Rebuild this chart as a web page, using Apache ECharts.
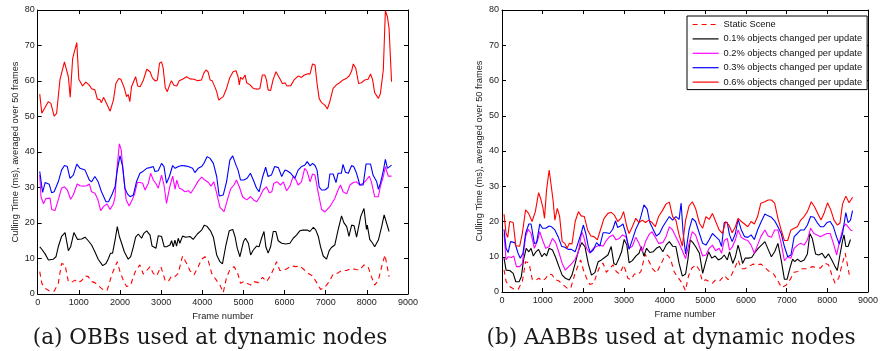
<!DOCTYPE html>
<html><head><meta charset="utf-8">
<script src="https://cdn.jsdelivr.net/npm/echarts@6/dist/echarts.min.js"></script>
<style>html,body{margin:0;padding:0;background:#fff}#c{width:881px;height:351px}</style>
</head><body><div id="c"></div>
<script>
// ---------- data ----------
const seriesNames = ['Static Scene','0.1% objects changed per update','0.2% objects changed per update','0.3% objects changed per update','0.6% objects changed per update'];
const seriesColors = ['#ff0000','#000000','#ff00ff','#0000ff','#ff0000'];
const xTickValues = [0,1000,2000,3000,4000,5000,6000,7000,8000,9000];
const yTickValues = [0,10,20,30,40,50,60,70,80];
const captions = ['(a) OBBs used at dynamic nodes','(b) AABBs used at dynamic nodes'];
const xTitle = 'Frame number';
const yTitle = 'Culling Time (ms), averaged over 50 frames';

// Static scene (same in both panels)
const staticScene = [[50,6.3],[100,3.0],[180,1.6],[280,0.9],[400,0.8],[500,3.0],[580,8.6],[665,8.2],[745,3.5],[825,3.3],[905,3.9],[990,3.2],[1070,3.8],[1150,5.1],[1230,4.9],[1310,3.5],[1390,3.2],[1500,2.1],[1600,1.1],[1690,1.1],[1800,5.4],[1880,7.7],[1935,9.1],[2000,6.3],[2080,3.9],[2160,2.1],[2260,2.5],[2325,4.9],[2390,6.8],[2485,8.2],[2565,5.6],[2650,6.6],[2730,7.7],[2810,5.8],[2890,5.1],[2995,7.7],[3095,3.9],[3175,3.5],[3255,5.1],[3335,4.9],[3415,5.8],[3520,10.7],[3620,8.6],[3700,6.6],[3800,5.4],[3900,7.7],[3985,9.8],[4065,10.5],[4145,9.4],[4230,5.8],[4330,4.1],[4430,2.5],[4510,0.4],[4590,4.7],[4670,6.8],[4770,7.7],[4850,6.3],[4930,3.0],[5010,3.5],[5090,3.0],[5175,2.5],[5255,3.5],[5360,3.2],[5465,4.7],[5560,3.5],[5645,4.9],[5725,6.8],[5805,9.1],[5885,6.6],[5970,6.6],[6065,7.2],[6170,7.9],[6275,7.7],[6370,7.9],[6470,6.9],[6575,5.8],[6680,5.1],[6780,3.2],[6875,1.3],[6980,1.9],[7085,3.5],[7180,5.6],[7280,5.8],[7385,6.6],[7505,6.6],[7630,7.2],[7730,6.9],[7830,6.8],[7930,8.2],[8030,7.7],[8110,4.9],[8190,2.5],[8280,3.9],[8360,7.7],[8440,11.0],[8480,10.7],[8540,4.9]];

// (a) OBBs
const obbP1 = [[50,13.3],[100,12.6],[180,11.3],[260,9.6],[380,9.8],[445,10.5],[500,13.3],[580,16.2],[665,17.3],[745,12.2],[800,13.3],[880,17.3],[965,15.4],[1070,15.5],[1150,16.0],[1230,15.0],[1310,13.8],[1390,11.9],[1470,9.8],[1510,9.8],[1580,8.0],[1660,8.6],[1720,10.0],[1770,11.5],[1820,11.5],[1880,15.2],[1935,19.0],[1985,16.2],[2040,14.3],[2105,11.9],[2200,9.8],[2260,10.5],[2325,13.3],[2380,16.0],[2445,16.9],[2525,15.7],[2580,17.1],[2650,17.8],[2730,16.6],[2780,13.5],[2825,13.3],[2875,12.9],[2930,16.4],[3010,16.2],[3075,13.3],[3130,13.3],[3215,13.8],[3255,15.0],[3295,13.3],[3335,15.2],[3375,13.5],[3415,15.7],[3455,14.3],[3520,16.3],[3600,16.0],[3700,16.2],[3780,15.4],[3880,16.9],[3985,18.0],[4050,19.4],[4120,19.0],[4200,17.8],[4270,16.0],[4350,11.0],[4430,9.1],[4490,8.5],[4575,13.8],[4655,17.8],[4740,18.2],[4795,16.2],[4850,12.9],[4915,10.5],[5000,14.7],[5050,15.7],[5120,14.3],[5175,11.0],[5240,12.4],[5320,13.5],[5380,13.3],[5440,15.7],[5500,17.6],[5545,13.3],[5600,11.5],[5660,13.3],[5725,17.6],[5790,17.6],[5845,15.0],[5930,14.3],[6030,14.1],[6130,14.3],[6210,15.7],[6290,16.6],[6370,17.8],[6450,18.0],[6550,18.0],[6615,17.6],[6700,18.8],[6760,18.0],[6820,16.2],[6875,13.3],[6940,10.7],[7020,9.8],[7085,12.2],[7140,13.1],[7220,13.8],[7300,18.0],[7385,22.0],[7440,20.1],[7510,19.0],[7565,16.2],[7630,19.4],[7690,19.2],[7750,16.0],[7790,15.7],[7850,21.8],[7930,24.1],[7990,18.2],[8010,19.4],[8070,15.4],[8140,14.3],[8190,13.3],[8280,15.2],[8360,19.0],[8420,22.3],[8460,21.8],[8540,17.6]];
const obbP2 = [[50,33.5],[80,27.4],[140,25.4],[200,26.9],[300,27.0],[340,23.8],[420,23.5],[500,26.5],[580,29.8],[650,30.2],[720,29.3],[800,26.7],[865,27.9],[960,31.0],[1030,30.5],[1110,30.4],[1190,30.5],[1255,31.0],[1310,28.8],[1390,28.4],[1460,26.7],[1530,23.5],[1600,24.6],[1680,25.4],[1760,23.8],[1840,25.4],[1880,27.4],[1920,34.5],[1985,42.3],[2030,40.6],[2080,34.0],[2150,26.5],[2225,24.8],[2310,26.9],[2360,28.4],[2420,31.4],[2490,31.4],[2550,31.2],[2610,29.3],[2690,31.2],[2745,34.0],[2810,32.1],[2870,31.2],[2930,29.8],[3010,33.5],[3070,30.7],[3130,25.5],[3210,30.2],[3280,33.2],[3340,29.5],[3380,32.1],[3440,29.8],[3500,29.5],[3580,28.8],[3660,29.1],[3720,28.4],[3800,29.8],[3900,31.8],[3985,32.9],[4060,32.1],[4150,31.4],[4210,30.4],[4280,31.6],[4350,28.4],[4430,24.4],[4530,23.2],[4610,26.5],[4690,29.6],[4770,30.7],[4830,32.1],[4900,30.2],[4980,27.4],[5080,26.5],[5170,27.4],[5250,26.5],[5320,26.0],[5400,27.4],[5480,29.3],[5560,30.2],[5630,28.5],[5690,28.8],[5740,31.2],[5820,31.6],[5900,30.7],[5970,31.6],[6050,29.1],[6130,30.4],[6210,33.2],[6270,32.3],[6330,30.7],[6410,31.6],[6490,35.4],[6550,34.5],[6620,31.6],[6680,33.8],[6740,33.5],[6820,28.4],[6900,23.8],[6980,23.1],[7100,24.6],[7220,26.9],[7300,29.3],[7360,30.7],[7420,28.8],[7510,28.2],[7590,30.7],[7670,31.4],[7750,31.6],[7830,30.7],[7910,31.2],[7990,32.1],[8060,33.2],[8110,31.6],[8190,27.4],[8280,27.4],[8330,30.4],[8400,33.1],[8450,35.9],[8520,33.2],[8600,33.2]];
const obbP3 = [[50,34.5],[120,28.6],[180,31.4],[280,30.9],[340,28.5],[400,28.8],[500,31.6],[580,34.9],[650,36.2],[720,35.9],[785,32.6],[865,33.5],[950,36.6],[1030,35.4],[1150,34.9],[1255,32.1],[1310,31.6],[1390,33.1],[1470,31.6],[1550,28.8],[1660,26.0],[1720,26.0],[1800,27.9],[1880,30.2],[1935,34.9],[2000,39.0],[2065,35.9],[2120,29.8],[2180,28.2],[2245,27.4],[2325,27.9],[2400,31.6],[2485,34.0],[2565,34.6],[2650,35.4],[2730,35.6],[2810,35.9],[2850,34.5],[2930,34.7],[3010,36.8],[3070,35.9],[3130,31.2],[3200,33.1],[3280,36.2],[3340,35.4],[3420,35.9],[3500,36.2],[3580,36.1],[3660,35.9],[3765,35.4],[3820,34.2],[3900,35.4],[3985,35.9],[4040,36.8],[4120,38.7],[4190,38.2],[4270,36.8],[4350,33.1],[4410,27.6],[4510,27.9],[4590,31.6],[4670,37.7],[4740,38.9],[4820,36.3],[4870,34.9],[4930,32.1],[5010,32.1],[5090,32.6],[5170,34.0],[5240,32.1],[5320,29.8],[5380,28.8],[5470,33.1],[5540,35.7],[5600,33.1],[5680,33.5],[5760,35.9],[5850,35.6],[5930,33.1],[6010,34.9],[6060,34.7],[6150,34.0],[6250,32.6],[6330,34.9],[6410,35.9],[6490,36.3],[6550,37.3],[6620,36.1],[6680,36.8],[6740,36.2],[6790,34.9],[6840,30.2],[6900,29.3],[6980,29.3],[7060,30.0],[7100,33.8],[7180,33.8],[7250,31.4],[7300,34.0],[7380,34.0],[7420,36.5],[7480,34.3],[7550,34.0],[7630,36.2],[7680,35.9],[7750,34.0],[7830,30.7],[7910,30.7],[7980,36.6],[8090,36.6],[8150,33.5],[8240,31.6],[8280,29.5],[8330,31.2],[8400,34.7],[8450,37.9],[8500,35.4],[8540,35.9],[8600,36.3]];
const obbP6 = [[50,56.3],[100,50.9],[140,50.7],[260,54.2],[320,53.7],[400,50.1],[460,50.9],[540,60.3],[650,65.4],[745,61.2],[790,55.4],[850,66.4],[950,70.8],[1000,60.5],[1090,58.6],[1170,59.7],[1250,58.9],[1310,57.8],[1390,57.5],[1450,54.9],[1510,54.8],[1550,53.9],[1600,55.4],[1680,53.5],[1760,51.5],[1840,54.6],[1900,59.3],[1970,60.7],[2020,60.5],[2100,58.2],[2160,55.6],[2200,56.2],[2240,54.2],[2280,58.4],[2320,57.9],[2380,61.2],[2430,58.6],[2490,58.4],[2570,60.3],[2650,63.3],[2730,62.6],[2790,60.8],[2860,60.0],[2910,60.3],[2960,65.0],[3010,65.4],[3050,63.6],[3100,58.2],[3150,57.0],[3200,58.7],[3250,60.1],[3310,58.8],[3380,58.6],[3440,60.1],[3520,60.5],[3620,61.2],[3700,60.6],[3800,60.5],[3890,60.1],[3980,60.3],[4040,62.3],[4090,63.1],[4140,62.6],[4190,60.3],[4240,60.1],[4310,58.2],[4350,57.0],[4400,54.6],[4450,55.1],[4510,55.6],[4590,57.9],[4670,61.0],[4750,62.6],[4820,62.9],[4870,61.2],[4900,58.9],[4930,61.0],[4980,60.5],[5040,61.7],[5080,59.5],[5160,58.9],[5240,57.9],[5340,57.7],[5400,57.9],[5460,61.7],[5520,61.7],[5560,60.3],[5600,57.5],[5660,57.3],[5720,60.3],[5790,62.6],[5870,61.0],[5950,59.2],[6010,59.5],[6060,58.6],[6150,58.7],[6230,60.3],[6330,61.4],[6410,61.0],[6480,61.7],[6550,62.0],[6620,62.0],[6680,64.8],[6740,64.5],[6790,59.3],[6840,55.1],[6900,53.9],[6980,53.2],[7040,52.1],[7100,54.2],[7180,57.9],[7260,58.9],[7340,59.5],[7420,60.3],[7510,60.8],[7570,61.4],[7630,62.8],[7670,64.8],[7730,63.6],[7800,59.3],[7870,59.5],[7950,60.3],[8030,60.5],[8090,62.0],[8140,60.3],[8190,56.7],[8280,55.1],[8330,56.5],[8400,63.1],[8450,79.8],[8500,78.1],[8540,74.8],[8600,59.8]];

// (b) AABBs
const aabbP1 = [[50,9.6],[100,6.2],[190,6.1],[275,5.3],[340,2.9],[420,2.9],[475,4.3],[530,9.1],[595,12.4],[660,11.4],[715,12.4],[770,10.2],[835,11.4],[900,12.1],[980,10.0],[1045,11.0],[1095,10.2],[1160,12.4],[1240,11.9],[1320,9.8],[1400,7.2],[1480,4.8],[1560,3.9],[1655,3.4],[1720,4.8],[1800,8.1],[1880,11.7],[1960,14.0],[2040,12.9],[2120,8.1],[2200,4.8],[2285,5.5],[2365,8.6],[2445,9.1],[2525,9.8],[2605,10.5],[2685,12.9],[2750,8.1],[2805,7.7],[2885,9.8],[2940,11.4],[3005,14.9],[3070,13.3],[3125,8.3],[3205,8.9],[3290,10.2],[3370,11.0],[3425,12.9],[3490,10.2],[3555,12.4],[3635,11.2],[3715,11.4],[3795,12.4],[3875,12.9],[3955,11.4],[4035,13.3],[4115,14.3],[4195,13.0],[4275,12.9],[4355,8.1],[4435,4.5],[4515,5.1],[4570,9.1],[4630,14.8],[4695,14.0],[4760,12.9],[4855,11.0],[4935,5.3],[5000,8.1],[5080,11.4],[5160,9.6],[5240,10.2],[5320,9.1],[5400,9.6],[5465,10.5],[5540,9.1],[5595,11.4],[5675,8.1],[5740,10.0],[5805,13.3],[5860,11.0],[5915,8.1],[5980,9.6],[6060,9.6],[6140,9.8],[6220,11.2],[6300,12.4],[6380,13.3],[6465,14.3],[6545,12.1],[6625,10.0],[6705,11.4],[6785,13.8],[6865,9.1],[6945,3.6],[7010,3.6],[7090,7.2],[7145,9.3],[7200,8.6],[7265,9.3],[7345,8.6],[7430,9.1],[7510,10.8],[7570,16.6],[7630,15.2],[7710,10.8],[7790,10.5],[7870,11.0],[7950,9.6],[8030,10.8],[8110,9.1],[8190,7.2],[8245,6.1],[8310,10.5],[8375,14.6],[8410,16.2],[8455,12.9],[8510,12.9],[8570,14.9]];
const aabbP2 = [[50,16.6],[100,9.1],[150,10.0],[235,9.8],[290,10.2],[355,7.2],[435,7.2],[500,8.1],[580,15.7],[645,17.8],[715,16.6],[795,12.4],[875,14.6],[930,17.1],[995,14.8],[1075,12.4],[1160,12.9],[1240,15.2],[1320,14.0],[1400,11.2],[1480,8.1],[1560,6.2],[1640,7.2],[1720,8.1],[1800,9.3],[1880,11.4],[1960,17.1],[2010,15.7],[2080,12.4],[2160,11.0],[2245,12.4],[2325,12.9],[2405,13.3],[2485,13.0],[2565,14.6],[2645,15.7],[2725,16.2],[2805,14.8],[2885,15.2],[2965,16.2],[3045,15.7],[3125,12.4],[3205,13.0],[3290,15.5],[3370,13.8],[3450,11.4],[3530,14.3],[3610,16.2],[3690,17.1],[3770,15.5],[3850,13.8],[3955,14.0],[4035,15.7],[4115,18.5],[4195,17.6],[4275,15.7],[4355,13.8],[4435,11.7],[4515,9.5],[4600,13.8],[4680,17.1],[4760,16.2],[4855,12.9],[4935,10.2],[5015,10.5],[5095,12.4],[5175,13.3],[5255,11.7],[5340,12.4],[5400,11.0],[5465,14.6],[5540,15.2],[5595,11.9],[5660,12.7],[5740,14.8],[5805,17.6],[5885,15.5],[5965,14.9],[6045,14.6],[6125,13.3],[6205,11.0],[6285,13.3],[6365,15.7],[6465,17.6],[6545,15.9],[6625,15.5],[6705,17.6],[6785,17.6],[6865,13.8],[6945,8.9],[7025,10.0],[7105,9.6],[7185,12.4],[7265,13.3],[7345,13.8],[7430,13.3],[7510,14.8],[7590,18.1],[7670,16.6],[7750,16.2],[7830,15.7],[7910,16.2],[7990,16.6],[8070,16.6],[8150,13.8],[8230,10.5],[8310,14.8],[8395,18.5],[8455,19.3],[8510,18.5],[8570,17.6],[8620,17.4]];
const aabbP3 = [[50,17.8],[100,12.4],[150,11.2],[210,14.3],[315,14.0],[395,11.0],[450,9.6],[515,11.0],[580,16.6],[660,19.3],[715,19.3],[795,13.8],[850,14.0],[930,19.3],[995,18.1],[1075,18.1],[1160,18.7],[1220,18.5],[1300,17.6],[1380,15.7],[1465,13.0],[1545,12.7],[1625,12.1],[1705,12.1],[1800,11.4],[1880,14.3],[1945,16.6],[2000,19.0],[2060,16.6],[2120,13.0],[2170,11.2],[2245,11.9],[2325,14.0],[2405,13.0],[2485,16.8],[2565,16.8],[2645,16.6],[2725,17.8],[2790,20.2],[2845,18.3],[2910,18.7],[2975,19.3],[3045,16.6],[3125,12.1],[3205,14.8],[3290,17.8],[3370,19.7],[3425,21.8],[3490,24.7],[3570,23.5],[3635,19.7],[3715,17.8],[3795,15.9],[3875,16.6],[3955,18.5],[4035,20.0],[4115,21.4],[4195,20.4],[4275,21.4],[4355,20.6],[4405,25.2],[4455,16.6],[4515,10.8],[4600,17.6],[4680,20.9],[4760,20.0],[4855,16.6],[4935,13.8],[5015,13.3],[5095,14.8],[5175,16.6],[5255,15.7],[5340,14.8],[5400,12.9],[5465,19.7],[5540,19.7],[5595,16.2],[5660,14.3],[5740,16.6],[5805,20.6],[5885,17.6],[5965,15.7],[6045,15.5],[6125,16.2],[6205,14.9],[6285,17.6],[6365,19.7],[6465,22.1],[6545,21.6],[6625,21.2],[6705,20.2],[6785,18.5],[6865,16.6],[6945,12.9],[7025,10.0],[7105,10.5],[7185,15.7],[7265,16.6],[7345,17.6],[7430,17.6],[7510,19.0],[7590,21.4],[7670,21.2],[7750,19.7],[7830,18.5],[7910,18.5],[7990,19.7],[8070,20.0],[8150,18.5],[8230,15.5],[8295,13.6],[8375,16.6],[8455,22.5],[8510,19.7],[8570,20.4],[8620,23.1]];
const aabbP6 = [[50,22.1],[100,16.6],[140,15.5],[190,20.0],[275,19.7],[340,13.1],[435,13.0],[500,16.6],[580,23.3],[655,22.3],[740,20.0],[820,22.8],[900,28.2],[955,26.3],[1010,23.7],[1045,20.9],[1095,28.9],[1160,34.6],[1205,34.4],[1255,26.1],[1300,20.4],[1360,23.7],[1415,21.6],[1480,14.3],[1545,13.8],[1600,12.4],[1655,13.8],[1720,13.6],[1800,20.0],[1880,22.8],[1945,21.6],[2025,21.4],[2105,17.6],[2185,15.9],[2265,15.7],[2345,14.8],[2425,17.8],[2510,20.9],[2605,22.3],[2685,22.6],[2765,21.8],[2845,20.0],[2925,20.9],[2990,22.8],[3070,18.5],[3125,16.6],[3205,18.5],[3290,20.9],[3370,19.7],[3450,20.4],[3530,19.7],[3610,20.4],[3690,19.7],[3770,18.5],[3850,21.4],[3955,23.3],[4035,25.0],[4115,25.5],[4195,21.4],[4275,20.4],[4355,16.2],[4435,13.0],[4515,20.4],[4600,24.4],[4680,25.6],[4760,23.7],[4855,19.5],[4935,18.1],[5015,21.4],[5095,20.6],[5175,22.3],[5255,20.0],[5340,17.6],[5420,16.6],[5500,20.0],[5580,19.0],[5660,16.8],[5740,18.5],[5805,20.9],[5885,20.0],[5965,19.3],[6045,18.5],[6125,20.0],[6205,19.3],[6285,21.4],[6365,25.2],[6465,25.6],[6545,26.1],[6625,26.1],[6705,25.2],[6785,20.9],[6865,17.6],[6945,14.6],[7025,14.6],[7105,17.6],[7185,18.1],[7265,18.5],[7345,20.4],[7430,21.4],[7510,22.8],[7605,25.6],[7685,24.2],[7765,22.3],[7845,20.4],[7925,22.5],[8005,25.3],[8085,23.3],[8165,20.4],[8245,19.0],[8310,19.5],[8375,25.0],[8455,27.2],[8535,25.3],[8620,26.9]];

const panels = [
  [staticScene, obbP1, obbP2, obbP3, obbP6],
  [staticScene, aabbP1, aabbP2, aabbP3, aabbP6]
];

// ---------- chart ----------
const FONT = 'Liberation Sans, Arial, sans-serif';
const grids = [
  {left: 37.7, top: 10, width: 370.3, height: 284},
  {left: 502, top: 10, width: 373.5, height: 282}
];

function xAx(g, pos, main) {
  return {
    type: 'value', gridIndex: g, position: pos,
    min: xTickValues[0], max: xTickValues[xTickValues.length-1], interval: xTickValues[1]-xTickValues[0],
    axisLine: {show: true, onZero: false, lineStyle: {color: '#000', width: 1}},
    axisTick: {show: true, inside: true, length: 4, lineStyle: {color: '#000', width: 1}},
    axisLabel: {show: main, fontSize: 9, margin: 4, color: '#222', fontFamily: FONT, showMaxLabel: true,
      formatter: v => String(v)},
    splitLine: {show: false},
    name: main ? xTitle : '', nameLocation: 'middle', nameGap: 15,
    nameTextStyle: {fontSize: 9.3, color: '#222', fontFamily: FONT}
  };
}
function yAx(g, pos, main) {
  return {
    type: 'value', gridIndex: g, position: pos,
    min: yTickValues[0], max: yTickValues[yTickValues.length-1], interval: yTickValues[1]-yTickValues[0],
    axisLine: {show: true, onZero: false, lineStyle: {color: '#000', width: 1}},
    axisTick: {show: true, inside: true, length: 4, lineStyle: {color: '#000', width: 1}},
    axisLabel: {show: main, fontSize: 9, margin: 3, color: '#222', fontFamily: FONT,
      formatter: v => String(v)},
    splitLine: {show: false},
    name: main ? yTitle : '', nameLocation: 'middle', nameGap: 18, nameRotate: 90,
    nameTextStyle: {fontSize: 9.3, color: '#222', fontFamily: FONT}
  };
}

const series = [];
panels.forEach((p, gi) => {
  p.forEach((d, si) => {
    series.push({
      name: seriesNames[si], type: 'line', xAxisIndex: gi, yAxisIndex: gi,
      data: d, showSymbol: false, symbol: 'none', smooth: false,
      lineStyle: {color: seriesColors[si], width: 1.1, type: si === 0 ? [5, 4] : 'solid'},
      itemStyle: {color: seriesColors[si]},
      z: 2 + si
    });
  });
});

const chart = echarts.init(document.getElementById('c'), null, {renderer: 'canvas'});
chart.setOption({
  animation: false,
  backgroundColor: '#fff',
  grid: grids,
  xAxis: [xAx(0, 'bottom', true), xAx(1, 'bottom', true), xAx(0, 'top', false), xAx(1, 'top', false)],
  yAxis: [yAx(0, 'left', true), yAx(1, 'left', true), yAx(0, 'right', false), yAx(1, 'right', false)],
  legend: {
    data: seriesNames, orient: 'vertical', left: 687, top: 16,
    padding: [4, 5, 3, 5], itemWidth: 26, itemHeight: 10, itemGap: 5.4,
    backgroundColor: '#fff', borderColor: '#000', borderWidth: 1,
    itemStyle: {opacity: 0, borderWidth: 0},
    lineStyle: {width: 1.2},
    textStyle: {fontSize: 9.3, color: '#111', fontFamily: FONT},
    selectedMode: false
  },
  graphic: captions.map((t, i) => ({
    type: 'text', x: i === 0 ? 210 : 671, y: 338,
    style: {text: t, textAlign: 'center', textVerticalAlign: 'middle',
      font: '21.6px "DejaVu Serif", serif', fill: '#1a1a1a'}
  })),
  series: series
});
</script>
</body></html>
